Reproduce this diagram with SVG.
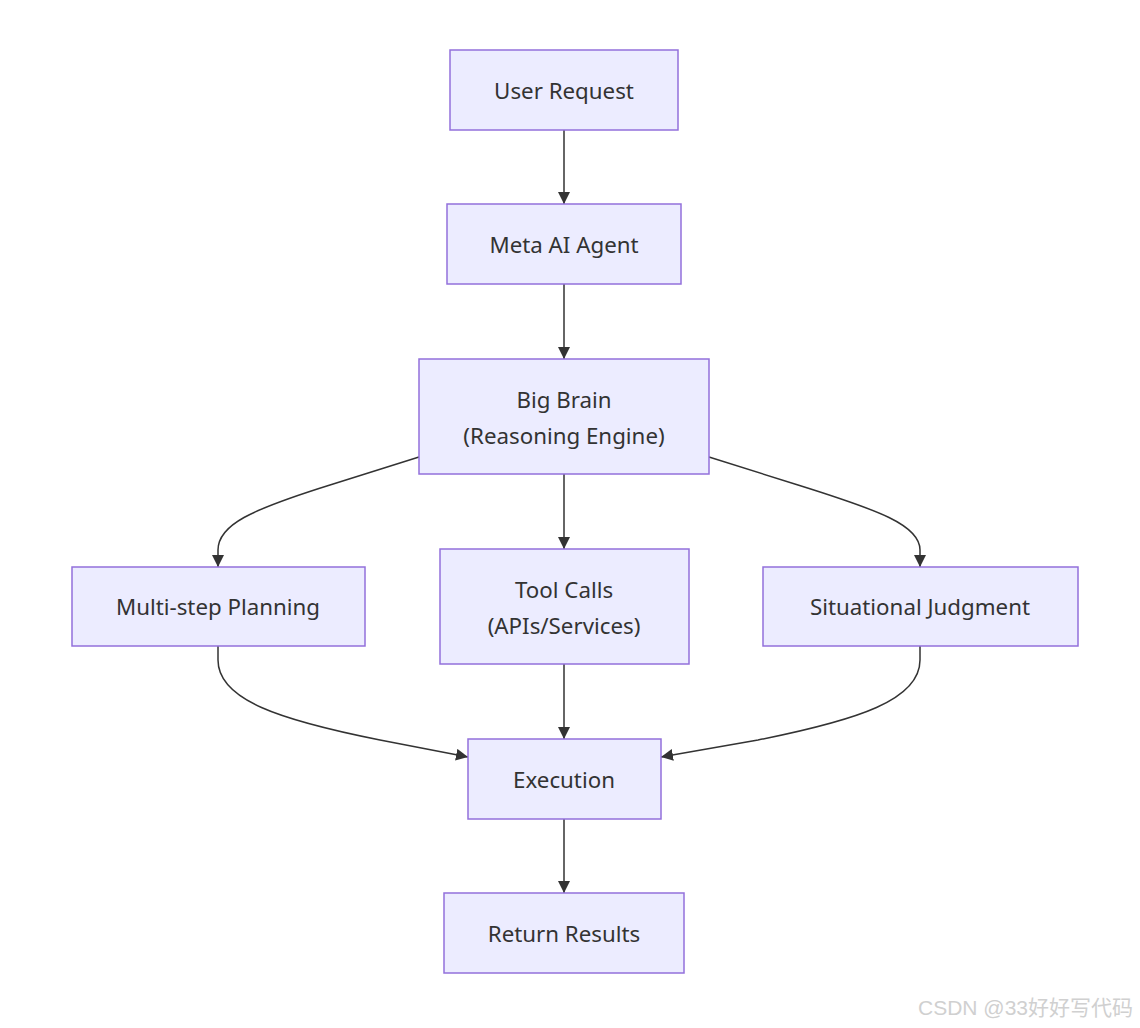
<svg xmlns="http://www.w3.org/2000/svg" width="1140" height="1028" viewBox="0 0 1140 1028">
<style>
.node rect{fill:#ECECFF;stroke:#9370DB;stroke-width:1.5}
.node text{font-family:"Noto Sans","DejaVu Sans",sans-serif;font-size:22.3px;fill:#333;text-anchor:middle;dominant-baseline:central}
.edges path{fill:none;stroke:#333;stroke-width:1.5}
.wm{font-family:"Liberation Sans","Noto Sans CJK SC",sans-serif;font-size:21px;fill:#d0d0d0}
</style>
<defs>
<marker id="ah" viewBox="0 0 10 10" refX="10" refY="5" markerWidth="12" markerHeight="12" markerUnits="userSpaceOnUse" orient="auto">
<path d="M0,0 L10,5 L0,10 z" fill="#333"/>
</marker>
</defs>
<rect width="1140" height="1028" fill="#fff"/>
<g class="edges">
<path d="M564,130 L564,204" marker-end="url(#ah)"/>
<path d="M564,284 L564,359" marker-end="url(#ah)"/>
<path d="M564,474 L564,549" marker-end="url(#ah)"/>
<path d="M419,457 L330,485 C250,510 218,525 218,550 L218,567" marker-end="url(#ah)"/>
<path d="M709,457 L798,485 C878,510 920,525 920,550 L920,567" marker-end="url(#ah)"/>
<path d="M218,646 L218,660 C218,700 280,720 380,740 L468,757" marker-end="url(#ah)"/>
<path d="M920,646 L920,660 C920,700 858,720 758,740 L661,757" marker-end="url(#ah)"/>
<path d="M564,664 L564,739" marker-end="url(#ah)"/>
<path d="M564,819 L564,893" marker-end="url(#ah)"/>
</g>
<g id="user" class="node"><rect x="450" y="50" width="228" height="80"/><text x="564" y="90">User Request</text></g>
<g id="meta" class="node"><rect x="447" y="204" width="234" height="80"/><text x="564" y="244">Meta AI Agent</text></g>
<g id="brain" class="node"><rect x="419" y="359" width="290" height="115"/><text x="564" y="399">Big Brain</text><text x="564" y="435">(Reasoning Engine)</text></g>
<g id="plan" class="node"><rect x="72" y="567" width="293" height="79"/><text x="218" y="606">Multi-step Planning</text></g>
<g id="tool" class="node"><rect x="440" y="549" width="249" height="115"/><text x="564" y="589">Tool Calls</text><text x="564" y="625">(APIs/Services)</text></g>
<g id="judge" class="node"><rect x="763" y="567" width="315" height="79"/><text x="920" y="606">Situational Judgment</text></g>
<g id="exec" class="node"><rect x="468" y="739" width="193" height="80"/><text x="564" y="779">Execution</text></g>
<g id="ret" class="node"><rect x="444" y="893" width="240" height="80"/><text x="564" y="933">Return Results</text></g>
<text class="wm" x="918" y="1015">CSDN @33好好写代码</text>
</svg>
